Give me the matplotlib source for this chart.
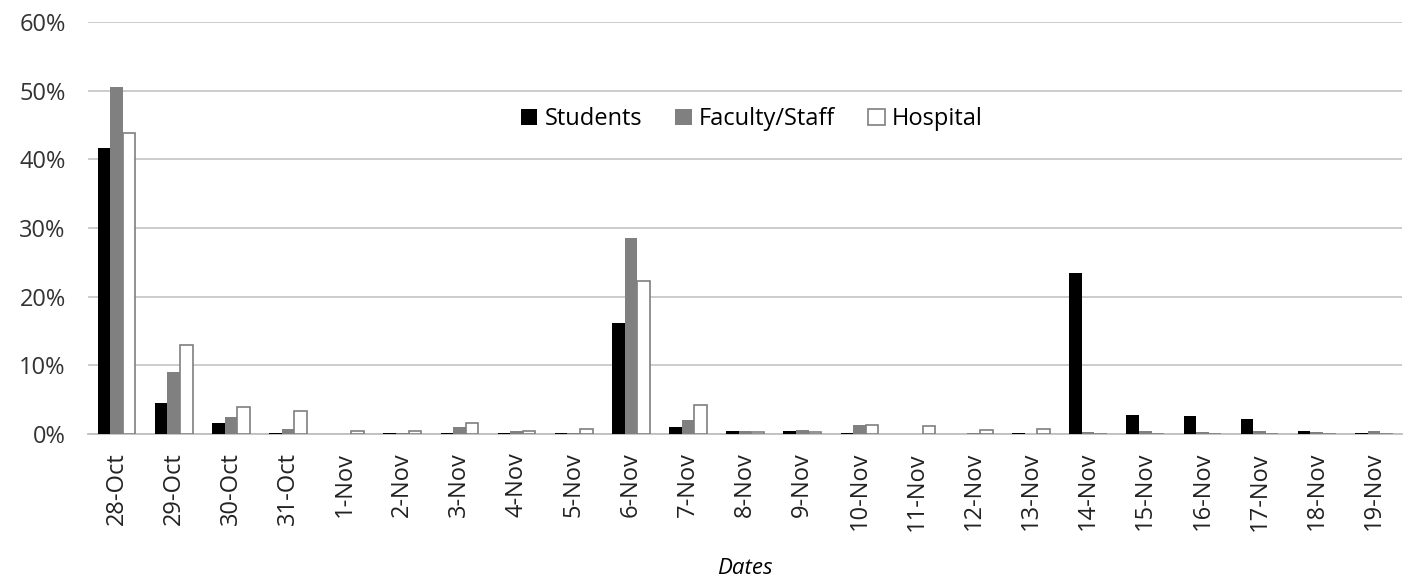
import numpy as np
import matplotlib.pyplot as plt

# ---- data (percent of cases per day) ----
dates = ['28-Oct', '29-Oct', '30-Oct', '31-Oct', '1-Nov', '2-Nov', '3-Nov', '4-Nov',
         '5-Nov', '6-Nov', '7-Nov', '8-Nov', '9-Nov', '10-Nov', '11-Nov', '12-Nov',
         '13-Nov', '14-Nov', '15-Nov', '16-Nov', '17-Nov', '18-Nov', '19-Nov']
students = [41.6, 4.5, 1.6, 0.2, 0.0, 0.2, 0.2, 0.2, 0.1, 16.2, 1.0, 0.5, 0.5, 0.2,
            0.0, 0.0, 0.2, 23.5, 2.8, 2.6, 2.2, 0.4, 0.2]
faculty = [50.6, 9.0, 2.5, 0.8, 0.0, 0.2, 1.0, 0.4, 0.1, 28.6, 2.0, 0.4, 0.6, 1.3,
           0.0, 0.2, 0.0, 0.3, 0.4, 0.3, 0.5, 0.3, 0.4]
hospital = [43.9, 13.0, 3.9, 3.4, 0.5, 0.4, 1.6, 0.5, 0.7, 22.3, 4.2, 0.3, 0.3, 1.3,
            1.1, 0.6, 0.8, 0.0, 0.0, 0.0, 0.0, 0.0, 0.0]

plt.rcParams['font.family'] = ['Open Sans', 'DejaVu Sans']

fig = plt.figure(figsize=(14.18, 5.81), dpi=100)
ax = fig.add_axes([0.062, 0.253, 0.927, 0.709])

x = np.arange(len(dates))
w = 0.22
ax.bar(x - w, students, w, color='black', label='Students', zorder=3)
ax.bar(x, faculty, w, color='#808080', label='Faculty/Staff', zorder=3)
ax.bar(x + w, hospital, w, color='white', edgecolor='#7f7f7f', linewidth=1.2,
       label='Hospital', zorder=3)

ax.set_ylim(0, 60)
ax.set_xlim(-0.5, len(dates) - 0.5)
ax.set_yticks(range(0, 61, 10))
ax.set_yticklabels([f'{v}%' for v in range(0, 61, 10)], fontsize=17, color='#333333')
ax.set_xticks(x)
ax.set_xticklabels(dates, rotation=90, fontsize=17, color='#222222')
ax.tick_params(axis='x', length=0, pad=13)
ax.tick_params(axis='y', length=0, pad=16)
ax.grid(axis='y', color='#c8c8c8', linewidth=1.3, zorder=0)
for s in ['top', 'right', 'left']:
    ax.spines[s].set_visible(False)
ax.spines['bottom'].set_color('#bfbfbf')
ax.spines['bottom'].set_linewidth(1.3)

ax.set_xlabel('Dates', fontsize=16, style='italic', labelpad=20)

ax.legend(loc='upper center', bbox_to_anchor=(0.505, 0.845), ncol=3, frameon=False,
          fontsize=17, handlelength=0.7, handleheight=0.7, handletextpad=0.3,
          columnspacing=1.4)

fig.savefig('out.png', dpi=100)
